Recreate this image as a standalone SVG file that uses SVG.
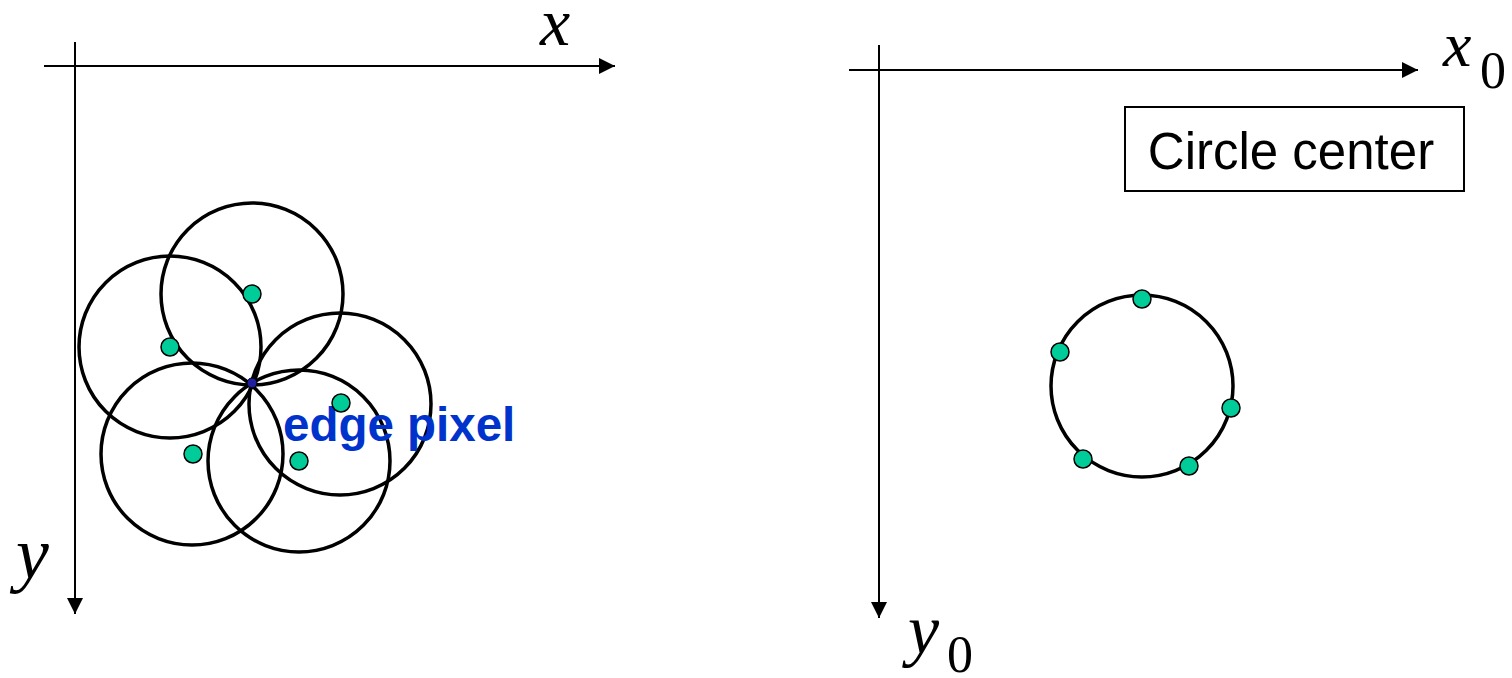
<svg xmlns="http://www.w3.org/2000/svg" width="1512" height="678" viewBox="0 0 1512 678">
<style>
.axis{stroke:#000;stroke-width:2;fill:none}
.ring{stroke:#000;stroke-width:3.5;fill:none}
.dot{fill:#00CC99;stroke:#000;stroke-width:1.5}
.var{font-family:"Liberation Serif",serif;font-style:italic;fill:#000}
.sub{font-family:"Liberation Serif",serif;fill:#000}
</style>
<defs>
<marker id="ah" markerUnits="userSpaceOnUse" markerWidth="16" markerHeight="16" refX="16" refY="8" orient="auto">
<path d="M0,0 L16,8 L0,16 Z" fill="#000"/>
</marker>
</defs>
<rect width="1512" height="678" fill="#fff"/>
<g id="connectors">
<line class="axis" x1="44" y1="66" x2="615" y2="66" marker-end="url(#ah)"/>
<line class="axis" x1="75" y1="42" x2="75" y2="614" marker-end="url(#ah)"/>
<line class="axis" x1="849" y1="70" x2="1418" y2="70" marker-end="url(#ah)"/>
<line class="axis" x1="879" y1="45" x2="879" y2="618" marker-end="url(#ah)"/>
</g>
<g id="labels">
<text class="var" x="540" y="45" font-size="68">x</text>
<text class="var" x="16" y="578" font-size="74">y</text>
<text class="var" x="1443" y="66" font-size="64">x</text>
<text class="sub" x="1480" y="88" font-size="52">0</text>
<text class="var" x="908" y="653" font-size="70">y</text>
<text class="sub" x="947" y="672" font-size="52">0</text>
</g>
<g id="vote-circles">
<circle class="ring" cx="252" cy="294" r="91"/>
<circle class="ring" cx="170" cy="347" r="91"/>
<circle class="ring" cx="340" cy="404" r="91"/>
<circle class="ring" cx="192" cy="454" r="91"/>
<circle class="ring" cx="299" cy="461" r="91"/>
</g>
<g id="edge-pixel">
<circle cx="252" cy="383" r="5" fill="#2020A0" stroke="#000" stroke-width="1"/>
<text x="283" y="441" font-family="Liberation Sans,Arial,sans-serif" font-weight="bold" font-size="47.5" fill="#0033CC">edge pixel</text>
</g>
<g id="left-centers">
<circle class="dot" cx="252" cy="294" r="9"/>
<circle class="dot" cx="170" cy="347" r="9"/>
<circle class="dot" cx="341" cy="403" r="9"/>
<circle class="dot" cx="193" cy="454" r="9"/>
<circle class="dot" cx="299" cy="461" r="9"/>
</g>
<g id="result-circle">
<circle class="ring" cx="1142" cy="386" r="91"/>
<circle class="dot" cx="1142" cy="299" r="9"/>
<circle class="dot" cx="1060" cy="352" r="9"/>
<circle class="dot" cx="1231" cy="408" r="9"/>
<circle class="dot" cx="1083" cy="459" r="9"/>
<circle class="dot" cx="1189" cy="466" r="9"/>
</g>
<g id="circle-center-label">
<rect x="1125" y="107" width="339" height="84" fill="#fff" stroke="#000" stroke-width="2"/>
<text x="1291" y="169" text-anchor="middle" font-family="Liberation Sans,Arial,sans-serif" font-size="51" fill="#000">Circle center</text>
</g>
</svg>
